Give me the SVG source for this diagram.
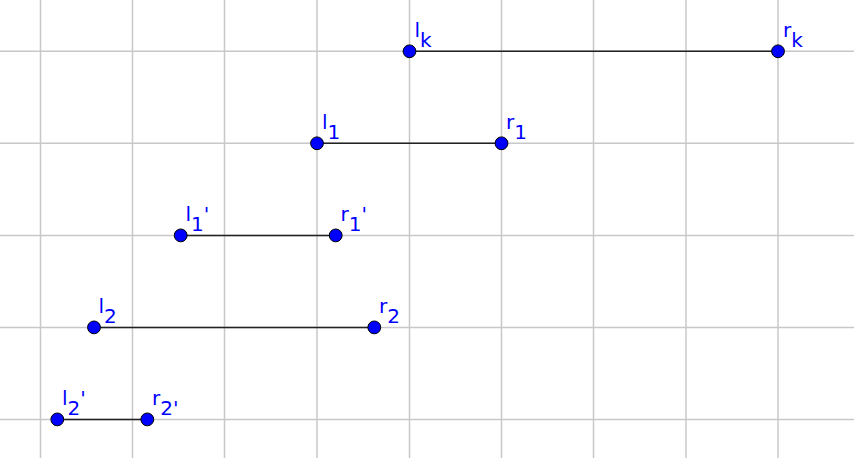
<svg xmlns="http://www.w3.org/2000/svg" width="854" height="458" viewBox="0 0 854 458">
<style>
.grid line{stroke:#c8c8c8;stroke-width:1.5}
.seg{stroke:#222;stroke-width:1.5}
.pt{fill:#0000ff;stroke:#000;stroke-width:1}
.lbl{font-family:"DejaVu Sans",sans-serif;font-size:20px;fill:#0000ff}
</style>
<rect width="854" height="458" fill="#fff"/>
<g class="grid" id="grid">
<line x1="40.5" y1="0" x2="40.5" y2="458"/>
<line x1="132.5" y1="0" x2="132.5" y2="458"/>
<line x1="224.5" y1="0" x2="224.5" y2="458"/>
<line x1="317" y1="0" x2="317" y2="458"/>
<line x1="409.5" y1="0" x2="409.5" y2="458"/>
<line x1="501.5" y1="0" x2="501.5" y2="458"/>
<line x1="593.5" y1="0" x2="593.5" y2="458"/>
<line x1="686" y1="0" x2="686" y2="458"/>
<line x1="778" y1="0" x2="778" y2="458"/>
<line x1="0" y1="51.3" x2="854" y2="51.3"/>
<line x1="0" y1="143.3" x2="854" y2="143.3"/>
<line x1="0" y1="235.4" x2="854" y2="235.4"/>
<line x1="0" y1="327.4" x2="854" y2="327.4"/>
<line x1="0" y1="419.4" x2="854" y2="419.4"/>
</g>
<g id="connectors">
<line class="seg" x1="409.5" y1="51.3" x2="778" y2="51.3"/>
<line class="seg" x1="317" y1="143.3" x2="501.5" y2="143.3"/>
<line class="seg" x1="180.7" y1="235.4" x2="335.7" y2="235.4"/>
<line class="seg" x1="94" y1="327.4" x2="374.3" y2="327.4"/>
<line class="seg" x1="57.3" y1="419.4" x2="147.3" y2="419.4"/>
</g>
<g id="lk"><circle class="pt" cx="409.5" cy="51.3" r="6.4"/><text class="lbl" x="414.5" y="37">l<tspan dy="10">k</tspan></text></g>
<g id="rk"><circle class="pt" cx="778" cy="51.3" r="6.4"/><text class="lbl" x="783" y="37">r<tspan dy="10">k</tspan></text></g>
<g id="l1"><circle class="pt" cx="317" cy="143.3" r="6.4"/><text class="lbl" x="322" y="129">l<tspan dy="10">1</tspan></text></g>
<g id="r1"><circle class="pt" cx="501.5" cy="143.3" r="6.4"/><text class="lbl" x="506" y="129">r<tspan dy="10">1</tspan></text></g>
<g id="l1p"><circle class="pt" cx="180.7" cy="235.4" r="6.4"/><text class="lbl" x="185.5" y="221">l<tspan dy="10">1</tspan><tspan dy="-10">'</tspan></text></g>
<g id="r1p"><circle class="pt" cx="335.7" cy="235.4" r="6.4"/><text class="lbl" x="340.5" y="221">r<tspan dy="10">1</tspan><tspan dy="-10">'</tspan></text></g>
<g id="l2"><circle class="pt" cx="94" cy="327.4" r="6.4"/><text class="lbl" x="98.5" y="313">l<tspan dy="10">2</tspan></text></g>
<g id="r2"><circle class="pt" cx="374.3" cy="327.4" r="6.4"/><text class="lbl" x="379" y="313">r<tspan dy="10">2</tspan></text></g>
<g id="l2p"><circle class="pt" cx="57.3" cy="419.4" r="6.4"/><text class="lbl" x="62" y="405">l<tspan dy="10">2</tspan><tspan dy="-10">'</tspan></text></g>
<g id="r2p"><circle class="pt" cx="147.3" cy="419.4" r="6.4"/><text class="lbl" x="152" y="405">r<tspan dy="10">2'</tspan></text></g>
</svg>
